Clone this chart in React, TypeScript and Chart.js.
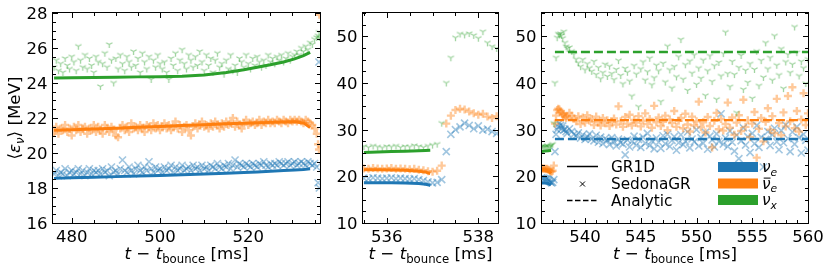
import { useEffect, useRef } from 'react';
import { Chart, registerables } from 'chart.js';
Chart.register(...registerables);

const W = 830;
const H = 272;
const BLUE = '#1f77b4';
const ORANGE = '#ff7f0e';
const GREEN = '#2ca02c';
const BLUE_A = 'rgba(31,119,180,0.42)';
const ORANGE_A = 'rgba(255,127,14,0.42)';
const GREEN_A = 'rgba(44,160,44,0.45)';
const FONT = '"DejaVu Sans", Verdana, sans-serif';

// ---------- Panel 1 (476 - 536 ms) SedonaGR samples, uniform time sampling ----------
const P1_T0 = 476;
const P1_DT = 0.5;
const P1_NUX = [
  24.9, 25.3, 24.7, 25.1, 24.6, 25.4, 25.0, 24.8, 25.5, 25.2,
  24.7, 26.1, 25.3, 24.9, 25.6, 24.8, 25.4, 25.0, 24.6, 25.5,
  25.2, 23.8, 25.1, 25.7, 24.9, 26.2, 25.3, 24.0, 25.4, 24.8,
  25.6, 25.1, 24.7, 25.5, 25.2, 24.9, 25.8, 25.0, 25.4, 24.6,
  25.7, 25.2, 24.8, 25.5, 24.2, 25.3, 24.9, 25.6, 25.1, 24.8,
  25.2, 24.6, 24.2, 25.4, 25.0, 25.7, 24.7, 25.3, 25.9, 25.1,
  24.8, 25.6, 25.3, 24.9, 25.5, 25.0, 25.8, 25.2, 24.7, 25.6,
  25.0, 25.4, 24.6, 25.3, 25.7, 24.9, 25.1, 24.5, 25.3, 24.8,
  25.6, 24.7, 25.0, 24.6, 25.4, 25.2, 24.9, 25.6, 25.1, 24.8,
  25.4, 25.0, 25.5, 25.2, 24.9, 25.3, 25.0, 25.6, 25.2, 25.4,
  25.1, 25.5, 25.3, 25.6, 25.2, 25.4, 25.7, 25.3, 25.5, 25.6,
  25.8, 25.6, 26.0, 25.8, 26.1, 25.9, 26.3, 26.2, 26.5, 26.6,
];
const P1_NUEBAR = [
  21.2, 21.5, 21.1, 21.4, 21.3, 21.6, 21.2, 21.4, 21.0, 21.5,
  21.3, 21.6, 21.2, 21.4, 21.5, 21.1, 21.4, 21.3, 21.6, 21.2,
  21.5, 21.3, 21.1, 21.6, 21.4, 21.2, 21.5, 21.3, 21.0, 20.9,
  21.4, 21.6, 21.3, 21.5, 21.2, 21.7, 21.4, 21.5, 21.3, 21.6,
  21.4, 21.2, 21.6, 21.5, 21.3, 21.7, 21.4, 21.6, 21.3, 21.5,
  21.7, 21.4, 21.6, 21.3, 21.5, 21.8, 21.4, 21.6, 21.2, 21.5,
  21.6, 21.3, 21.0, 21.5, 21.7, 21.4, 21.6, 21.8, 21.5, 21.6,
  21.4, 21.7, 21.5, 21.8, 21.6, 21.4, 21.7, 21.5, 21.8, 21.6,
  21.7, 22.0, 21.5, 21.8, 21.6, 21.4, 21.7, 21.9, 21.6, 21.7,
  21.8, 21.6, 21.7, 21.9, 21.6, 21.8, 21.7, 21.9, 21.7, 21.8,
  21.7, 21.9, 21.8, 21.7, 21.9, 21.8, 21.7, 21.9, 21.8, 21.9,
  21.8, 21.9, 21.8, 21.7, 21.9, 21.8, 21.7, 21.6, 21.4, 21.1,
];
const P1_NUE = [
  18.8, 19.0, 18.7, 18.9, 18.8, 19.1, 18.7, 18.9, 19.0, 18.8,
  18.9, 19.1, 18.8, 19.0, 18.7, 18.9, 19.1, 18.8, 19.0, 18.9,
  19.0, 18.8, 19.1, 18.9, 19.0, 18.7, 19.2, 18.9, 19.0, 18.8,
  19.1, 19.6, 19.0, 18.9, 19.2, 19.0, 18.8, 19.1, 19.3, 19.0,
  18.9, 19.2, 19.0, 19.5, 19.1, 18.9, 19.2, 19.0, 19.1, 18.9,
  19.2, 19.0, 19.1, 19.3, 18.9, 19.2, 19.0, 19.1, 19.3, 19.0,
  19.1, 19.2, 19.0, 19.3, 19.1, 19.2, 19.0, 19.3, 19.1, 19.2,
  19.0, 19.3, 19.2, 19.1, 19.4, 19.2, 19.1, 19.3, 19.2, 19.4,
  19.1, 19.3, 19.6, 19.2, 19.4, 19.3, 19.2, 19.4, 19.3, 19.2,
  19.4, 19.3, 19.2, 19.4, 19.3, 19.5, 19.3, 19.2, 19.4, 19.3,
  19.4, 19.3, 19.5, 19.4, 19.3, 19.4, 19.5, 19.3, 19.4, 19.5,
  19.3, 19.4, 19.5, 19.4, 19.3, 19.5, 19.4, 19.3, 19.4, 19.2,
];
const P1_EXTRA_T = [535.8, 536.0, 536.1];
const P1_EXTRA_NUX = [26.7, 26.9, 26.6];
const P1_EXTRA_NUEBAR = [20.5, 20.2, 27.9];
const P1_EXTRA_NUE = [18.3, 25.2, 18.0];

// Panel 1 GR1D curves
const P1_LINE_T = [476, 480, 485, 490, 495, 500, 505, 510, 515, 519, 522, 525, 528, 530.5, 532.5, 534.0];
const P1_LINE_NUX = [24.29, 24.30, 24.32, 24.33, 24.35, 24.36, 24.38, 24.46, 24.6, 24.76, 24.9, 25.04, 25.2, 25.38, 25.56, 25.75];
const P1_LINE_NUEBAR = [21.3, 21.33, 21.37, 21.42, 21.47, 21.52, 21.57, 21.62, 21.67, 21.7, 21.73, 21.75, 21.77, 21.78, 21.72, 21.45];
const P1_LINE_NUE = [18.55, 18.58, 18.61, 18.65, 18.69, 18.72, 18.76, 18.8, 18.84, 18.88, 18.92, 18.96, 19.0, 19.03, 19.06, 19.1];

// ---------- Panels 2 and 3 (535.5 - 560 ms) ----------
const P2_T0 = 535.5;
const P2_DT = 0.1;
const P2_NUX = [
  26.4, 26.2, 26.5, 26.3, 26.1, 26.4, 26.3, 26.5, 26.2, 26.4,
  26.3, 26.6, 26.4, 26.2, 26.5, 26.7, 26.9, 31.4, 40.0, 45.4,
  49.7, 50.5, 50.3, 50.6, 50.2, 49.6, 51.0, 48.6, 47.8, 47.4,
];
const P2_NUEBAR = [
  21.7, 21.6, 21.8, 21.7, 21.6, 21.7, 21.8, 21.6, 21.7, 21.6,
  21.5, 21.6, 21.4, 21.3, 21.1, 21.0, 21.2, 22.3, 31.3, 33.0,
  34.2, 34.5, 34.3, 33.9, 33.5, 33.2, 33.4, 32.8, 32.5, 32.9,
];
const P2_NUE = [
  19.6, 19.5, 19.7, 19.6, 19.5, 19.6, 19.7, 19.5, 19.6, 19.5,
  19.4, 19.5, 19.3, 19.1, 18.8, 18.6, 18.7, 19.3, 25.3, 29.0,
  30.0, 30.6, 31.4, 30.9, 30.2, 30.8, 29.9, 30.1, 29.6, 29.2,
];
const P3_T0 = 538.6;
const P3_DT = 0.2;
const P3_NUX = [
  47.6, 46.8, 46.2, 45.1, 44.3, 43.5, 45.0, 42.8, 44.1, 43.2,
  42.5, 44.6, 41.8, 43.3, 40.9, 42.2, 44.0, 41.4, 43.6, 42.0,
  40.7, 42.9, 44.8, 41.6, 39.8, 43.1, 42.3, 40.4, 37.2, 43.7,
  41.9, 34.9, 43.0, 44.5, 40.6, 42.4, 45.3, 39.6, 41.1, 43.8,
  42.6, 36.0, 44.2, 40.2, 47.9, 42.8, 38.9, 43.5, 41.3, 45.6,
  49.3, 40.8, 43.9, 38.4, 44.7, 42.1, 46.0, 39.7, 43.2, 41.0,
  44.9, 37.3, 42.6, 45.8, 40.3, 43.7, 36.5, 44.4, 41.5, 46.3,
  50.9, 42.0, 39.2, 44.6, 41.8, 33.6, 43.3, 45.9, 38.6, 42.7,
  40.1, 44.1, 36.7, 42.9, 46.8, 39.4, 44.8, 41.2, 48.6, 43.0,
  45.4, 40.6, 50.1, 43.8, 41.7, 47.3, 38.8, 44.5, 46.1, 42.2,
  44.0, 52.0, 46.5, 41.5, 44.6, 43.2, 39.9, 45.1,
];
const P3_NUEBAR = [
  33.6, 33.0, 32.4, 31.8, 32.9, 31.2, 32.6, 31.5, 33.1, 31.9,
  32.3, 31.0, 32.8, 31.6, 30.9, 32.5, 31.4, 32.0, 30.8, 31.7,
  32.4, 31.1, 35.0, 31.8, 30.6, 32.7, 31.3, 33.2, 30.9, 32.1,
  31.5, 32.9, 30.7, 31.9, 33.5, 31.2, 32.3, 30.4, 35.1, 31.6,
  32.6, 30.8, 31.7, 33.0, 29.9, 32.2, 31.4, 34.0, 30.6, 31.9,
  32.5, 30.3, 33.4, 31.1, 29.6, 32.8, 30.9, 31.8, 36.0, 30.5,
  31.6, 29.4, 32.7, 30.8, 26.2, 31.9, 33.6, 30.1, 32.3, 29.8,
  31.2, 35.8, 30.4, 32.6, 28.9, 31.5, 33.1, 29.7, 36.4, 30.6,
  32.0, 28.4, 31.3, 33.8, 24.0, 30.2, 32.5, 27.5, 31.7, 34.6,
  30.0, 32.9, 29.3, 36.6, 31.4, 28.8, 33.7, 30.7, 37.2, 31.8,
  39.1, 30.3, 34.0, 29.6, 32.2, 37.8, 31.0, 33.5,
];
const P3_NUE = [
  30.2, 29.6, 29.0, 28.7, 29.3, 28.2, 28.9, 27.9, 28.5, 29.1,
  28.0, 27.6, 28.8, 27.3, 28.4, 27.0, 28.1, 27.7, 26.8, 28.3,
  27.4, 26.5, 28.0, 27.2, 26.9, 24.6, 27.8, 26.3, 27.5, 28.6,
  26.7, 27.9, 26.2, 28.4, 27.1, 29.2, 26.6, 27.6, 25.9, 28.2,
  27.3, 26.0, 28.7, 27.0, 29.0, 26.4, 27.7, 28.5, 25.6, 27.2,
  28.9, 26.8, 27.5, 29.5, 26.1, 28.0, 27.4, 30.0, 26.5, 28.3,
  27.1, 29.4, 25.8, 28.6, 27.8, 26.3, 29.1, 27.5, 33.4, 26.9,
  28.2, 26.4, 29.7, 27.3, 25.4, 28.8, 23.8, 27.6, 30.4, 26.7,
  28.5, 25.1, 29.2, 27.0, 30.9, 26.2, 28.4, 22.0, 27.9, 29.6,
  26.6, 28.9, 30.3, 27.4, 25.7, 29.8, 27.2, 31.0, 28.1, 25.3,
  29.5, 26.9, 30.6, 28.3, 25.0, 29.0, 27.7, 25.6,
];
const GR1D_T = [535.5, 535.8, 536.1, 536.4, 536.7, 536.85, 536.95];
const GR1D_NUX = [25.1, 25.2, 25.3, 25.4, 25.5, 25.55, 25.6];
const GR1D_NUEBAR = [21.4, 21.4, 21.35, 21.3, 21.1, 20.9, 20.6];
const GR1D_NUE = [18.6, 18.6, 18.6, 18.55, 18.45, 18.3, 18.1];
const ANALYTIC_T = [537.3, 560];
const ANALYTIC_NUX = [46.65, 46.65];
const ANALYTIC_NUEBAR = [32.05, 32.05];
const ANALYTIC_NUE = [28.0, 28.0];

// ---------- axes ----------
const P1_X = [475.76, 536.24];
const P1_Y = [16, 28];
const P1_XMAJOR = [480, 500, 520];
const P1_YMAJOR = [16, 18, 20, 22, 24, 26, 28];
const P2_X = [535.48, 538.43];
const P3_X = [536.14, 560];
const P23_Y = [10, 55];
const P2_XMAJOR = [536, 538];
const P3_XMAJOR = [540, 545, 550, 555, 560];
const P23_YMAJOR = [10, 20, 30, 40, 50];

type Seg = { t: string; it?: boolean; sub?: boolean; bar?: boolean };

function drawRich(ctx: CanvasRenderingContext2D, segs: Seg[], x: number, y: number, size: number, align: 'left' | 'center') {
  const fontFor = (s: Seg) => `${s.it ? 'italic ' : ''}${s.sub ? size * 0.7 : size}px ${FONT}`;
  const widths = segs.map((s) => {
    ctx.font = fontFor(s);
    return ctx.measureText(s.t).width;
  });
  const total = widths.reduce((a, b) => a + b, 0);
  let cx = align === 'center' ? x - total / 2 : x;
  ctx.textAlign = 'left';
  ctx.textBaseline = 'alphabetic';
  segs.forEach((s, i) => {
    ctx.font = fontFor(s);
    const yy = y + (s.sub ? size * 0.24 : 0);
    ctx.fillText(s.t, cx, yy);
    if (s.bar) {
      ctx.save();
      ctx.lineWidth = 1;
      ctx.strokeStyle = '#000';
      ctx.beginPath();
      ctx.moveTo(cx + widths[i] * 0.2, y - size * 0.68);
      ctx.lineTo(cx + widths[i] * 1.0, y - size * 0.68);
      ctx.stroke();
      ctx.restore();
    }
    cx += widths[i];
  });
}

type PanelCfg = {
  left: number; right: number; top: number; bottom: number;
  xr: number[]; yr: number[];
  xMajor: number[]; xMinor: number;
  yMajor: number[]; yMinor: number;
  yTitle: boolean; legend: boolean;
};

const TICK_FS = 16.5;
const TITLE_FS = 16.7;
const LEG_FS = 15.3;

function makeAxesPlugin(cfg: PanelCfg) {
  return {
    id: 'mplAxes',
    afterDraw(chart: any) {
      const ctx: CanvasRenderingContext2D = chart.ctx;
      const a = chart.chartArea;
      const xs = chart.scales.x;
      const ys = chart.scales.y;
      ctx.save();
      ctx.strokeStyle = '#000';
      ctx.fillStyle = '#000';
      ctx.lineWidth = 1;
      ctx.strokeRect(a.left - 0.5, a.top - 0.5, a.right - a.left + 1, a.bottom - a.top + 1);

      const MAJ = 5;
      const MIN = 3;
      const near = (v: number, arr: number[]) => arr.some((m) => Math.abs(m - v) < 1e-6);
      ctx.beginPath();
      for (let k = Math.ceil(cfg.xr[0] / cfg.xMinor - 1e-9); k * cfg.xMinor <= cfg.xr[1] + 1e-9; k++) {
        const v = k * cfg.xMinor;
        const len = near(v, cfg.xMajor) ? MAJ : MIN;
        const px = Math.round(xs.getPixelForValue(v)) + 0.5;
        ctx.moveTo(px, a.bottom); ctx.lineTo(px, a.bottom - len);
        ctx.moveTo(px, a.top); ctx.lineTo(px, a.top + len);
      }
      for (let k = Math.ceil(cfg.yr[0] / cfg.yMinor - 1e-9); k * cfg.yMinor <= cfg.yr[1] + 1e-9; k++) {
        const v = k * cfg.yMinor;
        const len = near(v, cfg.yMajor) ? MAJ : MIN;
        const py = Math.round(ys.getPixelForValue(v)) + 0.5;
        ctx.moveTo(a.left, py); ctx.lineTo(a.left + len, py);
        ctx.moveTo(a.right, py); ctx.lineTo(a.right - len, py);
      }
      ctx.stroke();

      ctx.font = `${TICK_FS}px ${FONT}`;
      ctx.textBaseline = 'alphabetic';
      ctx.textAlign = 'center';
      cfg.xMajor.forEach((v) => {
        ctx.fillText(String(v), xs.getPixelForValue(v), a.bottom + 19);
      });
      ctx.textAlign = 'right';
      cfg.yMajor.forEach((v) => {
        ctx.fillText(String(v), a.left - 5.5, ys.getPixelForValue(v) + 6);
      });

      // x title
      drawRich(ctx, [{ t: 't', it: true }, { t: ' − ' }, { t: 't', it: true }, { t: 'bounce', sub: true }, { t: ' [ms]' }],
        (a.left + a.right) / 2, 259, TITLE_FS, 'center');

      if (cfg.yTitle) {
        ctx.save();
        ctx.translate(19.5, (a.top + a.bottom) / 2);
        ctx.rotate(-Math.PI / 2);
        drawRich(ctx, [{ t: '⟨' }, { t: 'ε', it: true }, { t: 'ν', it: true, sub: true }, { t: '⟩' }, { t: ' [MeV]' }],
          0, 0, TITLE_FS, 'center');
        ctx.restore();
      }

      if (cfg.legend) {
        ctx.lineWidth = 1.5;
        ctx.strokeStyle = '#000';
        ctx.beginPath();
        ctx.moveTo(567, 166.5); ctx.lineTo(598, 166.5);
        ctx.stroke();
        ctx.setLineDash([5.5, 2.5]);
        ctx.beginPath();
        ctx.moveTo(567, 200.5); ctx.lineTo(598, 200.5);
        ctx.stroke();
        ctx.setLineDash([]);
        ctx.lineWidth = 1;
        ctx.beginPath();
        ctx.moveTo(580, 181.5); ctx.lineTo(585, 186.5);
        ctx.moveTo(585, 181.5); ctx.lineTo(580, 186.5);
        ctx.stroke();
        const lx = 611;
        drawRich(ctx, [{ t: 'GR1D' }], lx, 172, LEG_FS, 'left');
        drawRich(ctx, [{ t: 'SedonaGR' }], lx, 189, LEG_FS, 'left');
        drawRich(ctx, [{ t: 'Analytic' }], lx, 206, LEG_FS, 'left');
        const patches = [BLUE, ORANGE, GREEN];
        const cy = [167, 183.5, 200];
        patches.forEach((c, i) => {
          ctx.fillStyle = c;
          ctx.fillRect(718, cy[i] - 5, 40, 10);
        });
        ctx.fillStyle = '#000';
        drawRich(ctx, [{ t: 'ν', it: true }, { t: 'e', it: true, sub: true }], 762, 172, LEG_FS, 'left');
        drawRich(ctx, [{ t: 'ν', it: true, bar: true }, { t: 'e', it: true, sub: true }], 762, 188.5, LEG_FS, 'left');
        drawRich(ctx, [{ t: 'ν', it: true }, { t: 'x', it: true, sub: true }], 762, 205, LEG_FS, 'left');
      }
      ctx.restore();
    },
  };
}

const sampled = (t0: number, dt: number, vals: number[]) => vals.map((v, i) => ({ x: t0 + i * dt, y: v }));
const paired = (ts: number[], vs: number[]) => ts.map((t, i) => ({ x: t, y: vs[i] }));

function triDown(color: string) {
  const c = document.createElement('canvas');
  c.width = 9;
  c.height = 9;
  const g = c.getContext('2d')!;
  g.strokeStyle = color;
  g.lineWidth = 1.3;
  const cx = 4.5, cy = 4.5, r = 3.6;
  g.beginPath();
  g.moveTo(cx, cy); g.lineTo(cx, cy + r);
  g.moveTo(cx, cy); g.lineTo(cx - r * 0.866, cy - r * 0.5);
  g.moveTo(cx, cy); g.lineTo(cx + r * 0.866, cy - r * 0.5);
  g.stroke();
  return c;
}

function scatterSet(data: any[], kind: 'nue' | 'nuebar' | 'nux', tri: HTMLCanvasElement) {
  if (kind === 'nue') {
    return { data, showLine: false, pointStyle: 'crossRot', pointRadius: 5, borderWidth: 1.6, borderColor: BLUE_A, backgroundColor: BLUE_A, order: 3, clip: 0 };
  }
  if (kind === 'nuebar') {
    return { data, showLine: false, pointStyle: 'cross', pointRadius: 4, borderWidth: 2.4, borderColor: ORANGE_A, backgroundColor: ORANGE_A, order: 2, clip: 0 };
  }
  return { data, showLine: false, pointStyle: tri, pointRadius: 4, borderWidth: 1, borderColor: GREEN_A, backgroundColor: GREEN_A, order: 1, clip: 0 };
}

function lineSet(data: any[], color: string, dashed = false) {
  return {
    data, showLine: true, pointRadius: 0, borderWidth: dashed ? 2.4 : 3, borderColor: color, backgroundColor: color,
    borderDash: dashed ? [9, 4] : [], fill: false, tension: 0, order: 0, clip: 0,
  };
}

function buildChart(canvas: HTMLCanvasElement, cfg: PanelCfg, datasets: any[]) {
  return new Chart(canvas, {
    type: 'scatter',
    data: { datasets },
    options: {
      responsive: false,
      animation: false,
      devicePixelRatio: 1,
      events: [],
      layout: { padding: { left: cfg.left, right: W - cfg.right, top: cfg.top, bottom: H - cfg.bottom } },
      scales: {
        x: { type: 'linear', min: cfg.xr[0], max: cfg.xr[1], display: false },
        y: { type: 'linear', min: cfg.yr[0], max: cfg.yr[1], display: false },
      },
      plugins: { legend: { display: false }, tooltip: { enabled: false } },
    } as any,
    plugins: [makeAxesPlugin(cfg)],
  });
}

export default function App() {
  const r1 = useRef<HTMLCanvasElement>(null);
  const r2 = useRef<HTMLCanvasElement>(null);
  const r3 = useRef<HTMLCanvasElement>(null);

  useEffect(() => {
    const tri = triDown(GREEN_A);
    const cfg1: PanelCfg = {
      left: 53, right: 320, top: 13, bottom: 223, xr: P1_X, yr: P1_Y,
      xMajor: P1_XMAJOR, xMinor: 5, yMajor: P1_YMAJOR, yMinor: 0.5, yTitle: true, legend: false,
    };
    const cfg2: PanelCfg = {
      left: 363, right: 498, top: 13, bottom: 223, xr: P2_X, yr: P23_Y,
      xMajor: P2_XMAJOR, xMinor: 0.5, yMajor: P23_YMAJOR, yMinor: 2.5, yTitle: false, legend: false,
    };
    const cfg3: PanelCfg = {
      left: 542, right: 808, top: 13, bottom: 223, xr: P3_X, yr: P23_Y,
      xMajor: P3_XMAJOR, xMinor: 1, yMajor: P23_YMAJOR, yMinor: 2.5, yTitle: false, legend: true,
    };

    const p1 = [
      lineSet(paired(P1_LINE_T, P1_LINE_NUE), BLUE),
      lineSet(paired(P1_LINE_T, P1_LINE_NUEBAR), ORANGE),
      lineSet(paired(P1_LINE_T, P1_LINE_NUX), GREEN),
      scatterSet([...sampled(P1_T0, P1_DT, P1_NUE), ...paired(P1_EXTRA_T, P1_EXTRA_NUE)], 'nue', tri),
      scatterSet([...sampled(P1_T0, P1_DT, P1_NUEBAR), ...paired(P1_EXTRA_T, P1_EXTRA_NUEBAR)], 'nuebar', tri),
      scatterSet([...sampled(P1_T0, P1_DT, P1_NUX), ...paired(P1_EXTRA_T, P1_EXTRA_NUX)], 'nux', tri),
    ];
    const common = () => [
      lineSet(paired(GR1D_T, GR1D_NUE), BLUE),
      lineSet(paired(GR1D_T, GR1D_NUEBAR), ORANGE),
      lineSet(paired(GR1D_T, GR1D_NUX), GREEN),
      scatterSet([...sampled(P2_T0, P2_DT, P2_NUE), ...sampled(P3_T0, P3_DT, P3_NUE)], 'nue', tri),
      scatterSet([...sampled(P2_T0, P2_DT, P2_NUEBAR), ...sampled(P3_T0, P3_DT, P3_NUEBAR)], 'nuebar', tri),
      scatterSet([...sampled(P2_T0, P2_DT, P2_NUX), ...sampled(P3_T0, P3_DT, P3_NUX)], 'nux', tri),
    ];
    const p3 = [
      ...common(),
      lineSet(paired(ANALYTIC_T, ANALYTIC_NUE), BLUE, true),
      lineSet(paired(ANALYTIC_T, ANALYTIC_NUEBAR), ORANGE, true),
      lineSet(paired(ANALYTIC_T, ANALYTIC_NUX), GREEN, true),
    ];
    const c1 = buildChart(r1.current!, cfg1, p1);
    const c2 = buildChart(r2.current!, cfg2, common());
    const c3 = buildChart(r3.current!, cfg3, p3);
    return () => {
      c1.destroy();
      c2.destroy();
      c3.destroy();
    };
  }, []);

  const cs: any = { position: 'absolute', left: 0, top: 0, width: W, height: H };
  return (
    <div style={{ position: 'fixed', left: 0, top: 0, width: W, height: H, background: '#fff' }}>
      <canvas ref={r1} width={W} height={H} style={cs} />
      <canvas ref={r2} width={W} height={H} style={cs} />
      <canvas ref={r3} width={W} height={H} style={cs} />
    </div>
  );
}
